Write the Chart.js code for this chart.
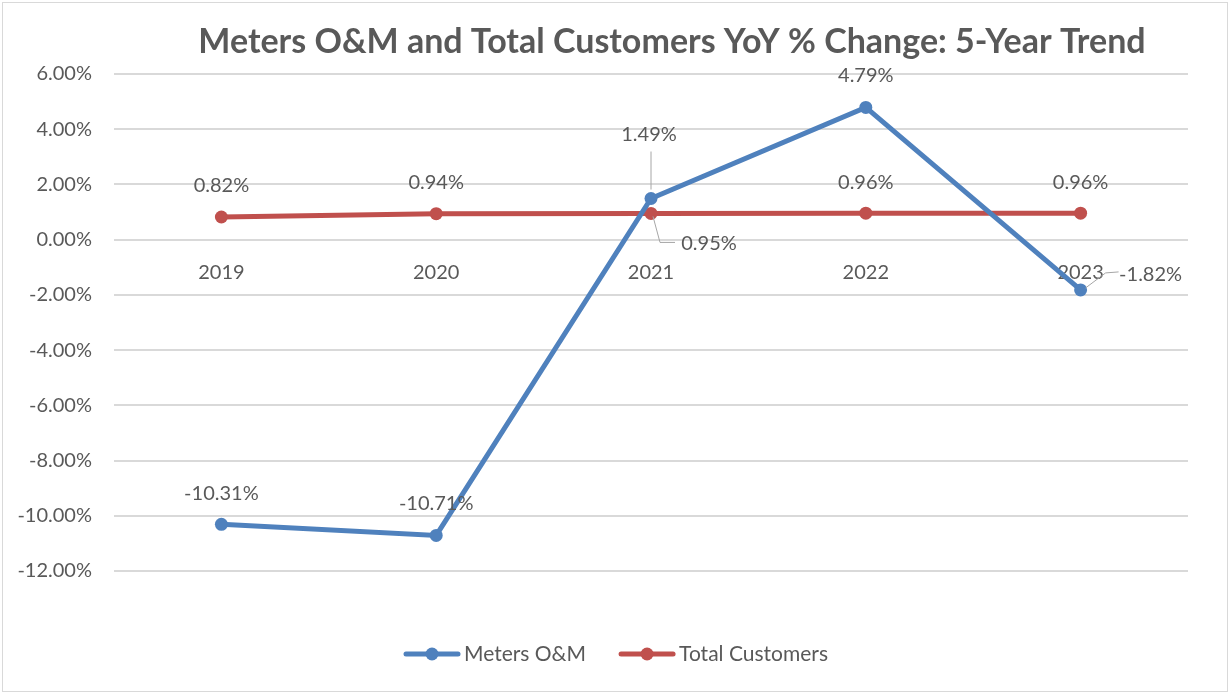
<!DOCTYPE html>
<html>
<head>
<meta charset="utf-8">
<script src="https://cdn.jsdelivr.net/npm/chart.js@4.4.1/dist/chart.umd.min.js"></script>
<style>
  html, body { margin: 0; padding: 0; background: #fff; }
  #wrap { width: 1230px; height: 694px; position: relative; }
</style>
</head>
<body>
<div id="wrap"><canvas id="myChart" width="1230" height="694"></canvas></div>
<script>
const years = ['2019', '2020', '2021', '2022', '2023'];
const metersOM = [-10.31, -10.71, 1.49, 4.79, -1.82];
const totalCustomers = [0.82, 0.94, 0.95, 0.96, 0.96];
const yTicks = [-12, -10, -8, -6, -4, -2, 0, 2, 4, 6];
const chartTitle = 'Meters O&M and Total Customers YoY % Change: 5-Year Trend';

const BLUE = '#4F81BD';
const RED = '#C0504D';
const TEXT = '#595959';
const FONT = 'Lato, "Open Sans", sans-serif';

// label offsets per point: [dx, dy, leader line points or null]
const labelPos = [
    [[0, -31], [0, -32], [-2, -64, [[0, -9], [0, -47]]], [0, -32], [70, -15, [[5, -2], [25, -17], [38, -18]]]],
    [[0, -31], [0, -31], [58, 30, [[2, 3], [9, 29], [24, 29]]], [0, -31], [0, -31]]
];

const titlePlugin = {
    id: 'titlePlugin',
    afterDraw(chart) {
        const ctx = chart.ctx;
        ctx.save();
        ctx.font = 'bold 34px ' + FONT;
        ctx.fillStyle = TEXT;
        ctx.textAlign = 'center';
        ctx.textBaseline = 'middle';
        ctx.fillText(chartTitle, 672, 42);
        ctx.restore();
    }
};

const dataLabels = {
    id: 'dataLabels',
    afterDatasetsDraw(chart) {
        const ctx = chart.ctx;
        ctx.save();
        ctx.font = '20px ' + FONT;
        ctx.fillStyle = TEXT;
        ctx.textAlign = 'center';
        ctx.textBaseline = 'middle';
        chart.data.datasets.forEach(function (ds, i) {
            chart.getDatasetMeta(i).data.forEach(function (pt, j) {
                const p = labelPos[i][j];
                if (p[2]) {
                    ctx.strokeStyle = '#A6A6A6';
                    ctx.lineWidth = 1;
                    ctx.beginPath();
                    p[2].forEach(function (q, k) {
                        if (k === 0) ctx.moveTo(pt.x + q[0], pt.y + q[1]);
                        else ctx.lineTo(pt.x + q[0], pt.y + q[1]);
                    });
                    ctx.stroke();
                }
                ctx.fillText(ds.data[j].toFixed(2) + '%', pt.x + p[0], pt.y + p[1]);
            });
        });
        ctx.restore();
    }
};

const customLegend = {
    id: 'customLegend',
    afterDraw(chart) {
        const ctx = chart.ctx;
        ctx.save();
        ctx.font = '21px ' + FONT;
        ctx.textBaseline = 'middle';
        const y = 654;
        const items = chart.data.datasets.map(function (ds) {
            return { label: ds.label, color: ds.borderColor, w: ctx.measureText(ds.label).width };
        });
        const sym = 56, gap = 4, spacing = 33;
        let total = 0;
        items.forEach(function (it, i) { total += sym + gap + it.w + (i ? spacing : 0); });
        let x = 616 - total / 2;
        items.forEach(function (it, i) {
            if (i) x += spacing;
            ctx.strokeStyle = it.color;
            ctx.lineWidth = 5;
            ctx.lineCap = 'round';
            ctx.beginPath();
            ctx.moveTo(x + 2, y);
            ctx.lineTo(x + sym - 2, y);
            ctx.stroke();
            ctx.fillStyle = it.color;
            ctx.beginPath();
            ctx.arc(x + sym / 2, y, 6.5, 0, Math.PI * 2);
            ctx.fill();
            ctx.fillStyle = TEXT;
            ctx.textAlign = 'left';
            ctx.fillText(it.label, x + sym + gap, y);
            x += sym + gap + it.w;
        });
        ctx.strokeStyle = '#D9D9D9';
        ctx.lineWidth = 1;
        ctx.strokeRect(2.5, 2.5, chart.width - 5, chart.height - 5);
        ctx.restore();
    }
};

new Chart(document.getElementById('myChart'), {
    type: 'line',
    data: {
        labels: years,
        datasets: [{
            label: 'Meters O&M',
            data: metersOM,
            borderColor: BLUE,
            backgroundColor: BLUE,
            borderWidth: 5,
            pointRadius: 6.5,
            pointBorderWidth: 0,
            tension: 0
        }, {
            label: 'Total Customers',
            data: totalCustomers,
            borderColor: RED,
            backgroundColor: RED,
            borderWidth: 5,
            pointRadius: 6.5,
            pointBorderWidth: 0,
            tension: 0
        }]
    },
    options: {
        responsive: false,
        animation: false,
        layout: { padding: { left: 0, right: 42, top: 74, bottom: 123 } },
        plugins: {
            legend: { display: false },
            tooltip: { enabled: false },
            title: { display: false }
        },
        scales: {
            x: {
                position: { y: 0 },
                offset: true,
                grid: { display: false, drawTicks: false },
                border: { display: false },
                ticks: { color: TEXT, font: { family: FONT, size: 20 }, padding: 21 }
            },
            y: {
                min: -12,
                max: 6,
                afterFit: function (s) { s.width = 114; },
                afterBuildTicks: function (s) { s.ticks = yTicks.map(function (v) { return { value: v }; }); },
                grid: { color: '#D9D9D9', lineWidth: 2, drawTicks: false },
                border: { display: false },
                ticks: {
                    color: TEXT,
                    font: { family: FONT, size: 20 },
                    padding: 22,
                    callback: function (v) { return v.toFixed(2) + '%'; }
                }
            }
        }
    },
    plugins: [dataLabels, customLegend, titlePlugin]
});
</script>
</body>
</html>
